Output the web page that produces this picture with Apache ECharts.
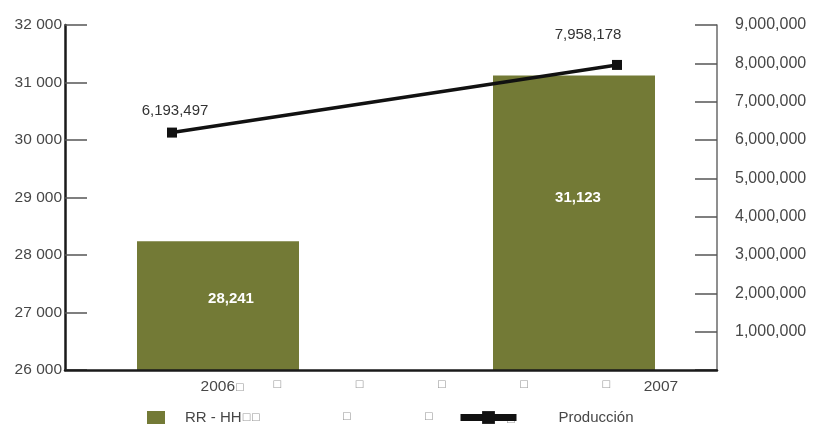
<!DOCTYPE html>
<html><head><meta charset="utf-8">
<script src="https://cdn.jsdelivr.net/npm/echarts@6/dist/echarts.min.js"></script>
<style>html,body{margin:0;padding:0;background:#fff}#c{width:813px;height:428px}</style>
</head><body><div id="c"></div>
<script>
// ---- data ----
const years = ['2006', '2007'];
const rrhhValues = [28241, 31123];
const produccionValues = [6193497, 7958178];
const leftTickLabels = ['26 000', '27 000', '28 000', '29 000', '30 000', '31 000', '32 000'];
const rightTickLabels = ['', '1,000,000', '2,000,000', '3,000,000', '4,000,000', '5,000,000', '6,000,000', '7,000,000', '8,000,000', '9,000,000'];
const xTickLabels = ['2006□', '', '□', '', '', '□', '', '', '□', '', '', '□', '', '', '□', '', '2007'];
const barName = 'RR - HH□□';
const lineName = 'Producción';
const legendBoxes = ['□', '□', '□'];

// ---- styles ----
const FONT = "'Liberation Sans', Arial, sans-serif";
const BOXFONT = "'DejaVu Sans', sans-serif";
const TXT = '#474747';
const BAR = '#737A36';
const fmt = v => String(v).replace(/\B(?=(\d{3})+(?!\d))/g, ',');

const barLabelOffsets = [[13, -7], [4, -25]];
const lineLabelOffsets = [[3, -4], [-29, -13]];

const boxRich = { b: { fontFamily: BOXFONT, fontSize: 10, color: '#9a9a9a' },
                  y: { fontFamily: FONT, fontSize: 15.5, color: TXT } };
const legendBoxX = [346, 428, 510];
const legendBoxY = [418, 418, 421];

const chart = echarts.init(document.getElementById('c'), null, { renderer: 'canvas' });
chart.setOption({
  animation: false,
  backgroundColor: '#fff',
  textStyle: { fontFamily: FONT },
  grid: [
    { left: 65, right: 96, top: 25, bottom: 58, outerBoundsMode: 'none' },
    { left: 40, right: 61, top: 25, bottom: 58, outerBoundsMode: 'none' },
    { left: 172, right: 196, top: 25, bottom: 58, outerBoundsMode: 'none' },
    { left: 222.5, right: 152.1, top: 25, bottom: 58, outerBoundsMode: 'none' }
  ],
  xAxis: [
    { gridIndex: 0, type: 'category', data: [''], axisLine: { lineStyle: { color: '#1a1a1a', width: 2.5 } },
      axisTick: { show: false }, axisLabel: { show: false }, splitLine: { show: false }, z: 5 },
    { gridIndex: 1, type: 'category', data: years, boundaryGap: true, show: false },
    { gridIndex: 2, type: 'category', data: years, boundaryGap: false, show: false },
    { gridIndex: 3, type: 'category', data: xTickLabels, boundaryGap: false,
      axisLine: { show: false }, axisTick: { show: false }, splitLine: { show: false },
      axisLabel: { interval: 0, margin: 9, fontSize: 15.5, color: TXT, fontFamily: FONT,
        formatter: v => v.replace(/(\d+)/, '{y|$1}').replace(/□/g, '{b|□}'), rich: boxRich } }
  ],
  yAxis: [
    { gridIndex: 0, type: 'value', position: 'left', min: 26000, max: 32000, interval: 1000,
      axisLine: { show: true, lineStyle: { color: '#1a1a1a', width: 2.5 } },
      axisTick: { show: true, inside: true, length: 22, lineStyle: { color: '#555', width: 1.5 } },
      splitLine: { show: false },
      axisLabel: { margin: 3, fontSize: 15.5, color: TXT, fontFamily: FONT,
        formatter: v => leftTickLabels[Math.round((v - 26000) / 1000)] } },
    { gridIndex: 0, type: 'value', position: 'right', min: 0, max: 9000000, interval: 1000000,
      axisLine: { show: true, lineStyle: { color: '#6a6a6a', width: 1.5 } },
      axisTick: { show: true, inside: true, length: 22, lineStyle: { color: '#555', width: 1.5 } },
      splitLine: { show: false },
      axisLabel: { margin: 18, fontSize: 16, color: TXT, fontFamily: FONT,
        formatter: v => rightTickLabels[Math.round(v / 1000000)] } },
    { gridIndex: 1, type: 'value', min: 26000, max: 32000, show: false, splitLine: { show: false } },
    { gridIndex: 2, type: 'value', min: 0, max: 9000000, show: false, splitLine: { show: false } },
    { gridIndex: 3, type: 'value', show: false, splitLine: { show: false } }
  ],
  legend: [
    { data: [{ name: barName, icon: 'rect' }], left: 147, top: 410, padding: 0,
      itemWidth: 18, itemHeight: 13, selectedMode: false,
      formatter: n => '{t|' + n.replace(/□/g, '') + '}{b|' + n.replace(/[^□]/g, '') + '}',
      textStyle: { fontSize: 15, color: TXT, fontFamily: FONT,
        rich: { t: { fontSize: 15, color: TXT, fontFamily: FONT, padding: [0, 0, 0, 15] },
                b: { fontFamily: BOXFONT, fontSize: 10, color: '#9a9a9a' } } } },
    { data: [{ name: lineName }], left: 457, top: 410, padding: 0,
      itemWidth: 56, itemHeight: 16, selectedMode: false,
      lineStyle: { width: 7, color: '#111' },
      itemStyle: { color: '#111' },
      textStyle: { fontSize: 15, color: TXT, fontFamily: FONT, padding: [0, 0, 0, 37] } }
  ],
  graphic: legendBoxes.map((t, i) => ({
    type: 'text', left: legendBoxX[i] - 4, top: legendBoxY[i] - 7, z: 0,
    style: { text: t, fontFamily: BOXFONT, fontSize: 10, fill: '#9a9a9a' }
  })),
  series: [
    { name: barName, type: 'bar', xAxisIndex: 1, yAxisIndex: 2, barWidth: 162,
      itemStyle: { color: BAR },
      label: { show: true, position: 'inside', color: '#fff', fontWeight: 'bold', fontSize: 15,
        fontFamily: FONT, formatter: p => fmt(p.value) },
      data: rrhhValues.map((v, i) => ({ value: v, label: { offset: barLabelOffsets[i] } })) },
    { name: lineName, type: 'line', xAxisIndex: 2, yAxisIndex: 3, clip: false,
      symbol: 'rect', symbolSize: 10,
      lineStyle: { color: '#111', width: 3.5 }, itemStyle: { color: '#111' },
      label: { show: true, position: 'top', color: '#333', fontSize: 15, fontFamily: FONT,
        formatter: p => fmt(p.value) },
      data: produccionValues.map((v, i) => ({ value: v, label: { offset: lineLabelOffsets[i] } })) }
  ]
});
</script></body></html>
